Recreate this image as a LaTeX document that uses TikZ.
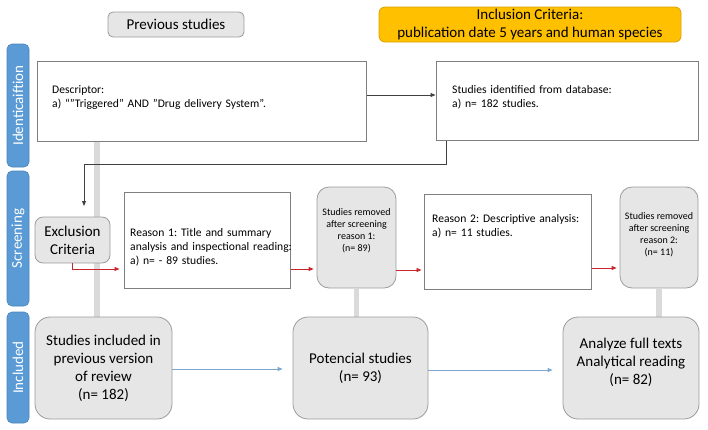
\documentclass[tikz,border=0pt]{standalone}
\usepackage{fontspec}
\setmainfont{Carlito}
\frenchspacing
\usetikzlibrary{arrows.meta}
\definecolor{lane}{HTML}{5B9BD5}
\definecolor{laneb}{HTML}{4A84BC}
\definecolor{gfill}{HTML}{E7E6E6}
\definecolor{gline}{HTML}{9C9C9C}
\definecolor{rline}{HTML}{7F7F7F}
\definecolor{conn}{HTML}{DADADA}
\definecolor{redarr}{HTML}{C8262C}
\definecolor{bluearr}{HTML}{7DA7CF}
\definecolor{incfill}{HTML}{FFC000}
\definecolor{incline}{HTML}{D9A000}
\tikzset{
  lanebar/.style={draw=laneb, fill=lane, rounded corners=5pt, line width=0.6pt, inner sep=0pt},
  lanetext/.style={text=white, rotate=90, font=\fontsize{15}{17}\selectfont, inner sep=0pt},
  whitebox/.style={draw=rline, fill=white, line width=1pt, inner sep=0pt},
  graybox/.style={draw=gline, fill=gfill, line width=0.8pt, inner sep=0pt, align=center},
  boxtext/.style={anchor=base west, inner sep=0pt, text width=#1, align=left, font=\fontsize{11.6}{14}\selectfont},
  smalltext/.style={inner sep=0pt, align=center, font=\fontsize{10}{12}\selectfont},
  grayconn/.style={draw=conn, line width=5.5pt},
  redarrow/.style={draw=redarr, line width=0.8pt, -{Triangle[length=5pt,width=4pt]}},
  bluearrow/.style={draw=bluearr, line width=0.8pt, -{Triangle[length=5pt,width=4pt]}},
  blackarrow/.style={draw=black!75, line width=0.9pt, -{Triangle[length=5pt,width=4pt]}},
}
\begin{document}
\begin{tikzpicture}[x=1pt,y=-1pt]
\useasboundingbox (0,0) rectangle (708,429);
% lane bars
\node[lanebar, minimum width=22pt, minimum height=123pt] (l1) at (18,105.5) {};
\node[lanetext] (l1t) at (l1.center) {Identicaiftion};
\node[lanebar, minimum width=22pt, minimum height=135pt] (l2) at (18,238.5) {};
\node[lanetext] (l2t) at (l2.center) {Screening};
\node[lanebar, minimum width=22pt, minimum height=111pt] (l3) at (18,367.5) {};
\node[lanetext] (l3t) at (l3.center) {Included};
% header boxes
\node[graybox, rounded corners=5pt, minimum width=136pt, minimum height=25pt, font=\fontsize{15}{18}\selectfont] (prev) at (176,24.5) {Previous studies};
\node[draw=incline, fill=incfill, rounded corners=6pt, line width=0.8pt, inner sep=0pt, align=center, minimum width=302pt, minimum height=35pt, font=\fontsize{15}{17.5}\selectfont] (incl) at (530,24.5) {Inclusion Criteria:\\publication date 5 years and human species};
% gray connector behind boxes
\coordinate (gc1) at (97,141);
\coordinate (gc2) at (97,317);
\draw[grayconn] (gc1) -- (gc2);
% identification row
\node[whitebox, minimum width=329pt, minimum height=80pt] (desc) at (201.5,101) {};
\node[whitebox, minimum width=262pt, minimum height=79pt] (ident) at (567,100.5) {};
\node[boxtext=300pt] (desct) at (52,93) {Descriptor:\\a) “"Triggered" AND "Drug delivery System”.};
\node[boxtext=240pt] (identt) at (452,93) {Studies identified from database:\\a) n= 182 studies.};
% screening row
\node[graybox, rounded corners=8pt, minimum width=75pt, minimum height=46pt, font=\fontsize{15}{18}\selectfont] (excl) at (72.5,240) {Exclusion\\Criteria};
\node[whitebox, minimum width=166pt, minimum height=96pt] (r1) at (207,240) {};
\node[boxtext=170pt] (r1t) at (130,236) {Reason 1: Title and summary\\analysis and inspectional reading:\\a) n= - 89 studies.};
\node[graybox, rounded corners=12pt, minimum width=79pt, minimum height=101pt] (rm1) at (356.5,237.5) {};
\node[smalltext] (rm1t) at (356.5,230.5) {Studies removed\\after screening\\reason 1:\\(n= 89)};
\node[whitebox, minimum width=167pt, minimum height=95pt] (r2) at (507.5,241.5) {};
\node[boxtext=160pt] (r2t) at (432,222) {Reason 2: Descriptive analysis:\\a) n= 11 studies.};
\node[graybox, rounded corners=12pt, minimum width=78pt, minimum height=101pt] (rm2) at (659,237.5) {};
\node[smalltext] (rm2t) at (659,234.5) {Studies removed\\after screening\\reason 2:\\(n= 11)};
% included row
\draw[grayconn] (rm1.south) -- (rm1.south |- 0,317);
\draw[grayconn] (rm2.south) -- (rm2.south |- 0,317);
\node[graybox, rounded corners=15pt, minimum width=137pt, minimum height=102pt, font=\fontsize{15}{18}\selectfont] (inc1) at (103.5,368) {Studies included in\\previous version\\of review\\(n= 182)};
\node[graybox, rounded corners=15pt, minimum width=135pt, minimum height=102pt, font=\fontsize{15}{18}\selectfont] (inc2) at (360.5,368) {Potencial studies\\(n= 93)};
\node[graybox, rounded corners=15pt, minimum width=136pt, minimum height=102pt] (inc3) at (631,368) {};
\node[inner sep=0pt, align=center, font=\fontsize{15}{18}\selectfont] (inc3t) at (631,362) {Analyze full texts\\Analytical reading\\(n= 82)};
% connectors
\draw[blackarrow] (desc.east |- 0,95) -- (ident.west |- 0,95);
\coordinate (exin) at (84,206);
\draw[blackarrow] (ident.south -| 446,0) -- (446,164) -| (exin);
\draw[redarrow] (excl.south) |- ([xshift=-4pt]r1.west |- 0,269);
\draw[redarrow] (r1.east |- 0,269) -- ([xshift=-3pt]rm1.west |- 0,269);
\draw[redarrow] (rm1.east |- 0,270) -- ([xshift=-2pt]r2.west |- 0,270);
\draw[redarrow] (r2.east |- 0,268) -- ([xshift=-3pt]rm2.west |- 0,268);
\draw[bluearrow] (inc1.east |- 0,369) -- ([xshift=-10pt]inc2.west |- 0,369);
\draw[bluearrow] (inc2.east |- 0,370) -- ([xshift=-10pt]inc3.west |- 0,370);
\end{tikzpicture}
\end{document}
